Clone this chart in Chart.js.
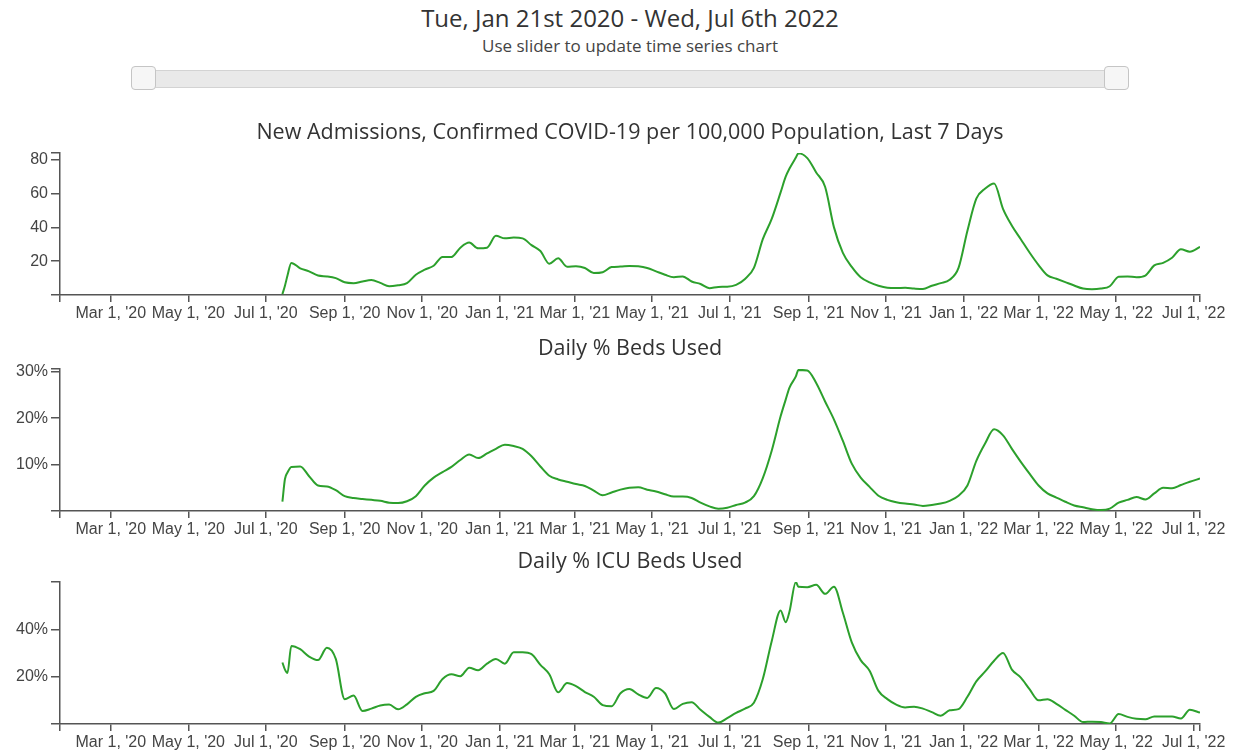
<!DOCTYPE html>
<html lang="en">
<head>
<meta charset="UTF-8">
<title>Hospital Capacity Time Series</title>
<script src="https://cdn.jsdelivr.net/npm/chart.js"></script>
<style>
  body { margin: 0; width: 1238px; height: 752px; overflow: hidden; background: #fff; font-family: 'Open Sans', sans-serif; color: #333; position: relative; }
  #range { position: absolute; left: 130px; width: 1000px; top: 4px; text-align: center; font-size: 24px; line-height: 28px; }
  #hint { position: absolute; left: 130px; width: 1000px; top: 36px; text-align: center; font-size: 17px; line-height: 20px; color: #444; }
  .track { position: absolute; left: 131px; top: 70px; width: 996px; height: 16px; background: #e9e9e9; border: 1px solid #d3d3d3; border-radius: 3px; }
  .handle { position: absolute; top: 66px; width: 23px; height: 22px; background: #f6f6f6; border: 1px solid #c5c5c5; border-radius: 4px; }
  canvas { position: absolute; left: 0; }
</style>
</head>
<body>
  <div id="range">Tue, Jan 21st 2020 - Wed, Jul 6th 2022</div>
  <div id="hint">Use slider to update time series chart</div>
  <div class="track"></div>
  <div class="handle" style="left:131px"></div>
  <div class="handle" style="left:1104px"></div>

  <canvas id="admChart" width="1238" height="212" style="top:113px"></canvas>
  <canvas id="bedsChart" width="1238" height="212" style="top:329px"></canvas>
  <canvas id="icuChart" width="1238" height="212" style="top:542px"></canvas>

<script>
// sample dates (one row per month)
const dates = [
  '2020-07-14','2020-07-16','2020-07-18','2020-07-21','2020-07-28',
  '2020-08-04','2020-08-11','2020-08-18','2020-08-25',
  '2020-09-01','2020-09-08','2020-09-15','2020-09-22','2020-09-29',
  '2020-10-06','2020-10-13','2020-10-20','2020-10-27',
  '2020-11-03','2020-11-10','2020-11-17','2020-11-24',
  '2020-12-01','2020-12-08','2020-12-15','2020-12-22','2020-12-29',
  '2021-01-05','2021-01-12','2021-01-19','2021-01-26',
  '2021-02-02','2021-02-09','2021-02-16','2021-02-23',
  '2021-03-02','2021-03-09','2021-03-16','2021-03-23','2021-03-30',
  '2021-04-06','2021-04-13','2021-04-20','2021-04-27',
  '2021-05-04','2021-05-11','2021-05-18','2021-05-25',
  '2021-06-01','2021-06-08','2021-06-15','2021-06-22','2021-06-29',
  '2021-07-06','2021-07-13','2021-07-20','2021-07-27',
  '2021-08-03','2021-08-10','2021-08-14','2021-08-17','2021-08-22','2021-08-24','2021-08-31',
  '2021-09-07','2021-09-14','2021-09-21','2021-09-28',
  '2021-10-05','2021-10-12','2021-10-19','2021-10-26',
  '2021-11-02','2021-11-09','2021-11-16','2021-11-23','2021-11-30',
  '2021-12-07','2021-12-14','2021-12-21','2021-12-28',
  '2022-01-04','2022-01-11','2022-01-18','2022-01-25',
  '2022-02-01','2022-02-08','2022-02-15','2022-02-22',
  '2022-03-01','2022-03-08','2022-03-15','2022-03-22','2022-03-29',
  '2022-04-05','2022-04-12','2022-04-19','2022-04-26',
  '2022-05-03','2022-05-10','2022-05-17','2022-05-24','2022-05-31',
  '2022-06-07','2022-06-14','2022-06-21','2022-06-28',
  '2022-07-06'
];

// new admissions per 100k, last 7 days
const admissions = [
  0.5, 5.5, 11.5, 19, 15.8,
  14, 11.5, 11, 10,
  7.5, 7, 8, 8.8, 7.2,
  5.2, 5.8, 7, 12,
  15, 17.3, 22.5, 22.5,
  28, 31, 27.6, 28, 35,
  33.5, 34, 33.5, 29.5,
  26, 18.5, 21.7, 16.7,
  17, 16, 13, 13.5, 16.5,
  16.8, 17.2, 17, 16,
  14, 12, 10.5, 11,
  8, 6.5, 4, 4.8, 4.9,
  6, 9.5, 16, 33,
  45, 60.7, 70, 74.8, 81.3, 83.8, 81,
  72.5, 64, 40, 24.9,
  16.6, 10.5, 7.5, 5.5,
  4.3, 4.1, 4.3, 3.8, 3.5,
  5.5, 7, 9, 16,
  38, 57, 63, 66,
  51, 41, 33, 25,
  17.7, 11.6, 9.6, 7.6, 5.6,
  3.8, 3.4, 3.8, 5.2,
  10.8, 11, 10.5, 11.5, 17.5,
  19, 22, 27, 25.6,
  28.5
];

// daily % of beds used
const bedsUsed = [
  2.0, 6.9, 8.3, 9.5, 9.6,
  7.5, 5.5, 5.3, 4.5,
  3.2, 2.8, 2.6, 2.4, 2.2,
  1.8, 1.7, 2.1, 3.2,
  5.5, 7.2, 8.4, 9.5,
  11, 12.2, 11.4, 12.4, 13.4,
  14.3, 14.0, 13.4, 11.8,
  9.6, 7.6, 6.8, 6.3,
  5.8, 5.4, 4.4, 3.4, 4.0,
  4.6, 5.0, 5.1, 4.6,
  4.2, 3.6, 3.1, 3.1,
  2.8, 1.8, 1.0, 0.5, 0.7,
  1.3, 1.8, 3.2, 7.1,
  13, 20.4, 24, 26.6, 29, 30.4, 30.3,
  27.6, 23.6, 19.7, 15.1,
  10.2, 7.2, 5.2, 3.3,
  2.4, 1.9, 1.6, 1.4, 1.1,
  1.3, 1.6, 2.2, 3.3,
  5.5, 10.8, 14.6, 17.6,
  16.3, 13.4, 10.6, 8.0,
  5.5, 3.8, 2.9, 2.0, 1.2,
  0.8, 0.4, 0.2, 0.5,
  1.8, 2.4, 3.0, 2.5, 3.8,
  5.0, 4.9, 5.6, 6.3,
  7.0
];

// daily % of ICU beds used
const icuUsed = [
  26, 23, 21.6, 33, 31.6,
  28.5, 27, 32.2, 27.5,
  10.5, 12, 5.5, 6.5, 7.8,
  8.2, 6.2, 8.3, 11.5,
  13, 14, 19, 21,
  20.2, 23.8, 22.7, 25.5, 27.5,
  25.5, 30.3, 30.3, 29.5,
  25, 21, 13.4, 17.3,
  16, 13.5, 11.5, 8, 7.5,
  13, 14.8, 12.5, 11,
  15.2, 13, 6.3, 8.5,
  9.2, 6, 3, 0.6, 2.5,
  4.7, 6.5, 9, 19,
  35, 48, 43, 47.5, 60, 58, 57.8,
  58.8, 55, 58, 47,
  34.5, 27, 22.5, 14,
  10.5, 8.2, 7, 7.3, 6.5,
  5, 3.5, 5.8, 6.3,
  11.5, 18, 22.2, 26.7,
  30, 23, 19.6, 14.6,
  10, 10.5, 8.5, 6, 3.5,
  0.8, 1, 0.8, 0.2,
  4.2, 3, 2.2, 2, 3.2,
  3.2, 3.2, 2.3, 6,
  4.8
];

const xStart = '2020-01-21';
const xEnd = '2022-07-06';
const xTickDates = ['2020-03-01','2020-05-01','2020-07-01','2020-09-01','2020-11-01','2021-01-01','2021-03-01',
  '2021-05-01','2021-07-01','2021-09-01','2021-11-01','2022-01-01','2022-03-01','2022-05-01','2022-07-01'];
const xTickLabels = ["Mar 1, '20","May 1, '20","Jul 1, '20","Sep 1, '20","Nov 1, '20","Jan 1, '21","Mar 1, '21",
  "May 1, '21","Jul 1, '21","Sep 1, '21","Nov 1, '21","Jan 1, '22","Mar 1, '22","May 1, '22","Jul 1, '22"];

function toUTC(s) {
  const [y, m, d] = s.split('-').map(Number);
  return Date.UTC(y, m - 1, d);
}
function dayIndex(s) {
  return Math.round((toUTC(s) - toUTC(xStart)) / 86400000);
}

const lastDay = dayIndex(xEnd);
const xTicks = [0].concat(xTickDates.map(dayIndex), [lastDay]);
const xLabelFor = {};
xTickDates.forEach((d, i) => { xLabelFor[dayIndex(d)] = xTickLabels[i]; });

const axisColor = '#555';
const labelFont = { family: "'Liberation Sans', Arial, sans-serif", size: 16 };

function makeChart(id, title, values, yTicks, yMax, suffix) {
  const ctx = document.getElementById(id).getContext('2d');
  return new Chart(ctx, {
    type: 'line',
    data: {
      datasets: [{
        data: dates.map((d, i) => ({ x: dayIndex(d), y: values[i] })),
        borderColor: '#2ca02c',
        borderWidth: 2,
        pointRadius: 0,
        cubicInterpolationMode: 'monotone',
        fill: false
      }]
    },
    options: {
      responsive: false,
      animation: false,
      devicePixelRatio: 1,
      layout: { padding: { left: 0, right: 38, top: 0, bottom: 0 } },
      plugins: {
        legend: { display: false },
        tooltip: { enabled: false },
        title: {
          display: true,
          text: title,
          fullSize: false,
          color: '#333',
          font: { family: "'Open Sans', sans-serif", size: 21.5, weight: 'normal' },
          padding: { top: 7, bottom: 7.2 }
        }
      },
      scales: {
        x: {
          type: 'linear',
          min: 0,
          max: lastDay,
          afterBuildTicks: axis => { axis.ticks = xTicks.map(v => ({ value: v })); },
          afterFit: axis => { axis.height = 30; },
          grid: { drawOnChartArea: false, drawTicks: true, tickLength: 7, color: axisColor, lineWidth: 1.5 },
          border: { color: axisColor, width: 1.5 },
          ticks: {
            autoSkip: false,
            maxRotation: 0,
            minRotation: 0,
            padding: 2,
            color: '#444',
            font: labelFont,
            callback: v => xLabelFor[v] || ''
          }
        },
        y: {
          min: 0,
          max: yMax,
          afterBuildTicks: axis => { axis.ticks = yTicks.concat([yMax]).map(v => ({ value: v })); },
          afterFit: axis => { axis.width = 60; },
          grid: { drawOnChartArea: false, drawTicks: true, tickLength: 9, color: axisColor, lineWidth: 1.5 },
          border: { color: axisColor, width: 1.5 },
          ticks: {
            padding: 3,
            color: '#444',
            font: labelFont,
            callback: v => (v === 0 || v === yMax) ? '' : v + suffix
          }
        }
      }
    }
  });
}

makeChart('admChart', 'New Admissions, Confirmed COVID-19 per 100,000 Population, Last 7 Days',
  admissions, [0, 20, 40, 60, 80], 84, '');
makeChart('bedsChart', 'Daily % Beds Used', bedsUsed, [0, 10, 20, 30], 30.6, '%');
makeChart('icuChart', 'Daily % ICU Beds Used', icuUsed, [0, 20, 40], 60, '%');
</script>
</body>
</html>
